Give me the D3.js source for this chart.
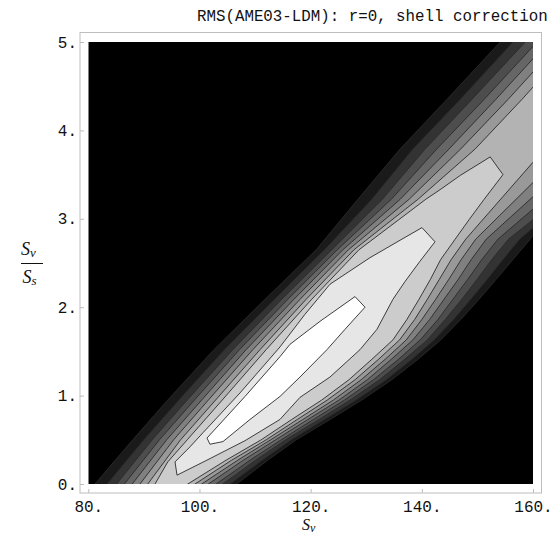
<!DOCTYPE html>
<html>
<head>
<meta charset="utf-8">
<script src="https://cdn.jsdelivr.net/npm/d3@7"></script>
<style>
  body { margin: 0; background: #fff; }
  svg { display: block; }
</style>
</head>
<body>
<svg id="chart" width="554" height="536"></svg>
<script>
// Axis ticks
const xTicks = [80, 100, 120, 140, 160];
const yTicks = [0, 1, 2, 3, 4, 5];

// Contour rings of the RMS surface, outermost (c10) to innermost (c1),
// as [Sv, Sv/Ss] points. Open contours are closed with points lying
// just outside the plotted domain, so the clip hides the closing edges.
const contour10 = [[79.7,-0.15],[81.2,0],[88.0,0.5],[94.3,0.95],[102.6,1.52],[111.8,2.09],[121.0,2.65],[128.5,3.22],[136.1,3.79],[144.5,4.35],[154.1,5.0],[156.3,5.15],[161,5.15],[161,2.86],[160,2.81],[159.5,2.77],[156.4,2.54],[153.3,2.31],[150.3,2.09],[147.0,1.86],[143.4,1.63],[139.3,1.41],[134.6,1.18],[129.2,0.95],[123.5,0.73],[117.4,0.50],[112.3,0.27],[106.7,0],[103.2,-0.15]];
const contour9 = [[81.9,-0.15],[83.4,0],[90.0,0.5],[96.3,0.95],[104.5,1.52],[113.5,2.09],[122.5,2.65],[131.0,3.22],[138.4,3.79],[146.9,4.35],[156.4,5.0],[158.6,5.15],[161,5.15],[161,2.95],[160,2.90],[157.6,2.77],[154.6,2.54],[151.7,2.31],[148.8,2.09],[145.7,1.86],[142.2,1.63],[138.2,1.41],[133.6,1.18],[128.2,0.95],[122.5,0.73],[116.5,0.50],[111.3,0.27],[105.5,0],[102.0,-0.15]];
const contour8 = [[83.6,-0.15],[85.1,0],[91.5,0.5],[97.8,0.95],[106.0,1.52],[114.8,2.09],[123.8,2.65],[132.9,3.22],[140.6,3.79],[149.0,4.35],[158.6,5.0],[160.8,5.15],[161,5.15],[161,3.04],[160,2.99],[155.6,2.77],[152.6,2.54],[149.9,2.31],[147.2,2.09],[144.2,1.86],[141.0,1.63],[136.9,1.41],[132.4,1.18],[127.1,0.95],[121.5,0.73],[115.5,0.50],[110.1,0.27],[104.2,0],[100.7,-0.15]];
const contour7 = [[85.0,-0.15],[86.5,0],[92.8,0.5],[99.1,0.95],[107.2,1.52],[115.9,2.09],[124.8,2.65],[134.5,3.22],[142.7,3.79],[151.2,4.35],[160,4.95],[161,5.02],[161,3.16],[160,3.11],[153.7,2.77],[150.8,2.54],[148.2,2.31],[145.6,2.09],[142.9,1.86],[139.7,1.63],[135.8,1.41],[131.3,1.18],[126.1,0.95],[120.5,0.73],[114.7,0.50],[109.1,0.27],[103.0,0],[99.5,-0.15]];
const contour6 = [[86.4,-0.15],[87.9,0],[94.1,0.5],[100.4,0.95],[108.4,1.52],[117.0,2.09],[125.8,2.65],[136.1,3.22],[144.9,3.79],[153.3,4.35],[160,4.81],[161,4.88],[161,3.31],[160,3.25],[151.6,2.77],[148.9,2.54],[146.5,2.31],[144.0,2.09],[141.4,1.86],[138.4,1.63],[134.5,1.41],[130.2,1.18],[125.1,0.95],[119.5,0.73],[113.7,0.50],[107.9,0.27],[101.6,0],[98.1,-0.15]];
const contour5 = [[87.8,-0.15],[89.3,0],[95.35,0.5],[101.6,0.95],[109.6,1.52],[118.1,2.09],[126.8,2.65],[137.7,3.22],[147.0,3.79],[155.5,4.35],[160,4.66],[161,4.73],[161,3.47],[160,3.41],[149.7,2.77],[147.1,2.54],[144.8,2.31],[142.5,2.09],[140.0,1.86],[137.2,1.63],[133.4,1.41],[129.1,1.18],[124.1,0.95],[118.6,0.73],[112.8,0.50],[106.9,0.27],[100.4,0],[96.9,-0.15]];
const contour4 = [[89.2,-0.15],[90.7,0],[96.6,0.5],[102.9,0.95],[110.9,1.52],[119.2,2.09],[127.8,2.65],[139.3,3.22],[149.6,3.79],[158.0,4.35],[160,4.49],[161,4.56],[161,3.71],[160,3.64],[147.9,2.77],[145.3,2.54],[143.1,2.31],[141.0,2.09],[138.7,1.86],[136.0,1.63],[132.2,1.41],[128.0,1.18],[123.0,0.95],[117.6,0.73],[112.0,0.50],[105.8,0.27],[99.2,0],[95.7,-0.15]];
const contour3 = [[90.5,-0.15],[92.0,0],[94.3,0.25],[97.8,0.5],[104.1,0.95],[112.0,1.52],[120.2,2.09],[128.7,2.65],[140.7,3.22],[143.3,3.33],[146.9,3.49],[152.3,3.70],[154.6,3.50],[151.2,3.22],[148.5,2.99],[146.0,2.77],[143.4,2.54],[141.5,2.31],[139.5,2.09],[137.3,1.86],[134.8,1.63],[131.0,1.41],[126.9,1.18],[122.0,0.95],[116.6,0.73],[111.1,0.50],[104.8,0.27],[97.9,0],[94.4,-0.15]];
const contour2 = [[95.6,0.25],[98.29,0.42],[100.63,0.58],[107.29,1.03],[114.48,1.55],[118.98,1.92],[123.48,2.26],[130.67,2.56],[136.43,2.77],[140.03,2.90],[142.37,2.74],[139.67,2.52],[136.97,2.29],[134.81,2.09],[131.93,1.75],[128.88,1.52],[123.48,1.21],[118.08,0.98],[114.48,0.73],[108.19,0.49],[101.35,0.27],[95.96,0.10]];
const contour1 = [[101.35,0.52],[108.19,0.99],[114.48,1.44],[116.28,1.58],[121.68,1.84],[127.98,2.12],[129.78,2.0],[126.18,1.75],[122.94,1.52],[118.08,1.21],[114.48,0.99],[109.09,0.73],[104.23,0.48],[101.89,0.45]];

const contours = [contour10, contour9, contour8, contour7, contour6,
                  contour5, contour4, contour3, contour2, contour1];

const svg = d3.select("#chart");
const x = d3.scaleLinear().domain([80, 160]).range([88.3, 533]);
const y = d3.scaleLinear().domain([0, 5]).range([484, 42]);

// Gray shading: black outside all contours, white inside the innermost
const shade = d3.scaleLinear().domain([0, 1]).range(["#000000", "#ffffff"]);

svg.append("defs").append("clipPath").attr("id", "plotClip")
  .append("rect")
  .attr("x", x(80)).attr("y", y(5))
  .attr("width", x(160) - x(80)).attr("height", y(0) - y(5));

const plot = svg.append("g").attr("clip-path", "url(#plotClip)");

plot.append("rect")
  .attr("x", x(80)).attr("y", y(5))
  .attr("width", x(160) - x(80)).attr("height", y(0) - y(5))
  .attr("fill", "#000");

const ring = d3.line().x(d => x(d[0])).y(d => y(d[1]));

plot.selectAll("path.band")
  .data(contours)
  .join("path")
  .attr("class", "band")
  .attr("d", d => ring(d) + "Z")
  .attr("fill", (d, i) => shade((i + 1) / contours.length))
  .attr("stroke", "none");

plot.selectAll("path.level")
  .data(contours)
  .join("path")
  .attr("class", "level")
  .attr("d", d => ring(d) + "Z")
  .attr("fill", "none")
  .attr("stroke", "#2a2a2a")
  .attr("stroke-width", 0.9)
  .attr("stroke-linejoin", "round");

// Frame
const frame = { left: 80, right: 541.5, top: 32.5, bottom: 493 };
svg.append("rect")
  .attr("x", frame.left).attr("y", frame.top)
  .attr("width", frame.right - frame.left).attr("height", frame.bottom - frame.top)
  .attr("fill", "none").attr("stroke", "#bdbdbd").attr("stroke-width", 1);

const tickFont = "'Liberation Mono', 'Courier New', monospace";

const xAxis = d3.axisBottom(x).tickValues(xTicks)
  .tickFormat(d => d + ".").tickSizeInner(-4).tickSizeOuter(0).tickPadding(8);
const gx = svg.append("g").attr("transform", `translate(0,${frame.bottom})`).call(xAxis);

const yAxis = d3.axisLeft(y).tickValues(yTicks)
  .tickFormat(d => d + ".").tickSizeInner(-4).tickSizeOuter(0).tickPadding(3);
const gy = svg.append("g").attr("transform", `translate(${frame.left},0)`).call(yAxis);

[gx, gy].forEach(g => {
  g.select(".domain").remove();
  g.selectAll(".tick line").attr("stroke", "#bdbdbd");
  g.selectAll(".tick text")
    .attr("font-family", tickFont).attr("font-size", 16).attr("fill", "#111");
});

// Title
svg.append("text")
  .attr("x", 197).attr("y", 21)
  .attr("font-family", tickFont).attr("font-size", 15.8).attr("fill", "#111")
  .text("RMS(AME03-LDM): r=0, shell correction");

// Axis labels
const serif = "'Liberation Serif', 'Times New Roman', serif";
const xl = svg.append("text")
  .attr("x", 302).attr("y", 530)
  .attr("font-family", serif).attr("font-style", "italic")
  .attr("font-size", 16).attr("fill", "#111");
xl.append("tspan").text("S");
xl.append("tspan").attr("font-size", 12).attr("dy", 2).text("v");

const num = svg.append("text")
  .attr("x", 21).attr("y", 255)
  .attr("font-family", serif).attr("font-style", "italic")
  .attr("font-size", 18).attr("fill", "#111");
num.append("tspan").text("S");
num.append("tspan").attr("font-size", 13).attr("dy", 2).text("v");

svg.append("line")
  .attr("x1", 21).attr("x2", 43).attr("y1", 263.5).attr("y2", 263.5)
  .attr("stroke", "#111").attr("stroke-width", 1);

const den = svg.append("text")
  .attr("x", 22.5).attr("y", 283)
  .attr("font-family", serif).attr("font-style", "italic")
  .attr("font-size", 18).attr("fill", "#111");
den.append("tspan").text("S");
den.append("tspan").attr("font-size", 13).attr("dy", 2).text("s");
</script>
</body>
</html>
